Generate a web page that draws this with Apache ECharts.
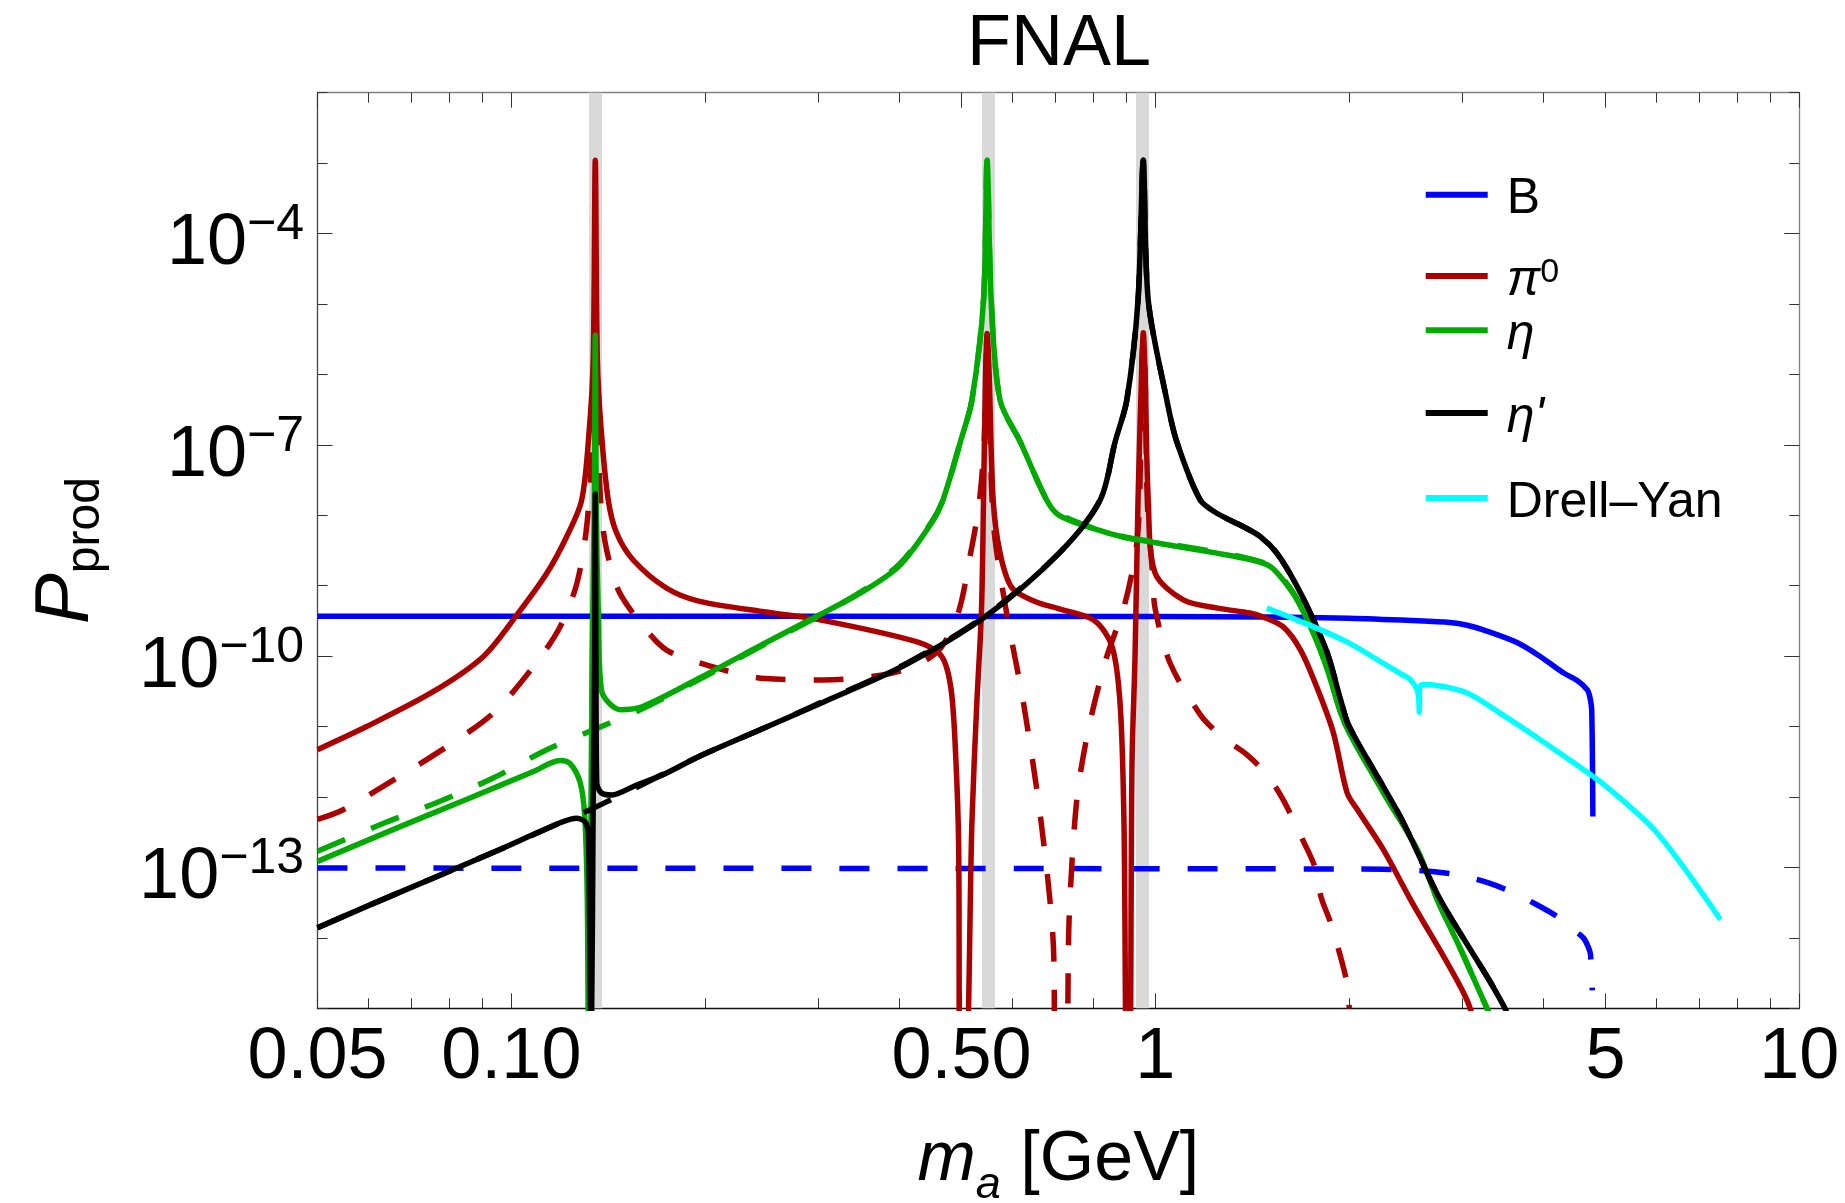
<!DOCTYPE html>
<html lang="en">
<head>
    <meta charset="utf-8">
    <title>FNAL</title>
    <script src="https://cdn.jsdelivr.net/npm/echarts@6/dist/echarts.min.js"></script>
    <style>
        html, body {
            margin: 0;
            padding: 0;
            background: #ffffff;
        }

        #main {
            width: 1845px;
            height: 1203px;
        }
    </style>
</head>
<body>
<div id="main"></div>
<script>
    var FONT = 'Liberation Sans';

    // meson masses [GeV] (grey bands)
    var mesonMasses = [0.135, 0.548, 0.958];

    // axis ticks
    var xMajor = [0.05, 0.1, 0.5, 1, 5, 10];
    var xMajorLabels = ['0.05', '0.10', '0.50', '1', '5', '10'];
    var xMinor = [0.06, 0.07, 0.08, 0.09, 0.2, 0.3, 0.4, 0.6, 0.7, 0.8, 0.9, 2, 3, 4, 6, 7, 8, 9];
    var yMajorExp = [-13, -10, -7, -4];
    var yMinorExp = [-15, -14, -12, -11, -9, -8, -6, -5, -3, -2];

    // curves: [m_a (GeV), P_prod]
    var bSolid = [
        [0.05, 3.7e-10], [1.0, 3.65e-10], [1.5, 3.6e-10], [2.0, 3.45e-10], [2.5, 3.2e-10], [2.87, 3.0e-10],
        [3.05, 2.75e-10], [3.23, 2.36e-10], [3.65, 1.55e-10], [3.96, 9.9e-11], [4.30, 5.8e-11], [4.52, 4.5e-11],
        [4.69, 3.3e-11], [4.73, 2.6e-11], [4.76, 1.73e-11], [4.78, 5.3e-13]
    ];
    var bDashed = [
        [0.05, 9.8e-14], [2.0, 9.5e-14], [2.55, 9.1e-14], [2.94, 7.9e-14], [3.3, 6.0e-14], [3.59, 4.4e-14],
        [3.9, 3.0e-14], [4.21, 2.0e-14], [4.46, 1.31e-14], [4.62, 1.0e-14], [4.70, 7.5e-15], [4.74, 5.8e-15],
        [4.77, 1.8e-15]
    ];
    var pi0Solid = [
        [0.05, 4.7e-12], [0.0596, 1.0e-11], [0.0757, 3.15e-11], [0.0905, 9.9e-11], [0.102, 3.85e-10],
        [0.1135, 1.5e-9], [0.1219, 5.0e-9], [0.1286, 1.65e-8], [0.1321, 1.6e-7], [0.134, 1.6e-6],
        [0.135, 1.1e-3], [0.136, 1.6e-6], [0.1379, 1.6e-7], [0.1414, 1.65e-8], [0.1457, 5.6e-9],
        [0.1547, 2.3e-9], [0.1743, 9.2e-10], [0.196, 6.0e-10], [0.25, 4.2e-10], [0.3055, 3.2e-10],
        [0.428, 1.58e-10], [0.4655, 1.0e-10], [0.4815, 3.5e-11], [0.4895, 4.3e-12], [0.495, 2e-13],
        [0.497, 1e-16], [0.507, 1e-16], [0.519, 4.3e-13], [0.528, 2e-11], [0.537, 4.3e-10], [0.541, 1.65e-8],
        [0.545, 1e-6], [0.548, 3.8e-6], [0.552, 1e-6], [0.560, 1.65e-8], [0.574, 2.9e-9], [0.599, 9.3e-10],
        [0.652, 5.9e-10], [0.709, 4.7e-10], [0.804, 3.2e-10], [0.857, 1.36e-10], [0.882, 2e-11],
        [0.894, 4.3e-13], [0.903, 1e-16], [0.912, 1e-16], [0.92, 3e-12], [0.93, 1e-10], [0.94, 1.65e-8],
        [0.952, 1e-6], [0.958, 3.9e-6], [0.964, 1e-6], [0.975, 1.65e-8], [0.999, 1.52e-9], [1.105, 6.3e-10],
        [1.25, 4.8e-10], [1.403, 4.1e-10], [1.47, 3.6e-10], [1.58, 2.6e-10], [1.68, 1.23e-10], [1.78, 3.7e-11],
        [1.89, 8.2e-12], [1.985, 1.15e-12], [2.06, 6.6e-13], [2.26, 1.79e-13], [2.49, 3.5e-14],
        [3.03, 1.47e-15], [3.2, 3e-16]
    ];
    var pi0Dashed = [
        [0.05, 4.8e-13], [0.0548, 6.6e-13], [0.0664, 1.86e-12], [0.0794, 5.2e-12], [0.0937, 1.55e-11],
        [0.1082, 7.1e-11], [0.119, 2.6e-10], [0.1264, 1.08e-9], [0.1309, 6.9e-9], [0.1335, 1e-7],
        [0.135, 1e-5], [0.1365, 1e-7], [0.138, 1.08e-8], [0.1406, 3.2e-9], [0.147, 8.2e-10], [0.162, 2.36e-10],
        [0.174, 1.23e-10], [0.196, 8e-11], [0.248, 4.8e-11], [0.3055, 4.6e-11], [0.377, 5.4e-11],
        [0.428, 7.6e-11], [0.4655, 1.35e-10], [0.495, 4.3e-10], [0.517, 3e-9], [0.532, 1.35e-8],
        [0.542, 1e-7], [0.548, 3e-6], [0.554, 1e-7], [0.562, 6e-9], [0.587, 4.3e-10], [0.625, 2e-11],
        [0.665, 4.3e-13], [0.694, 9e-15], [0.70, 1e-16], [0.724, 1e-16], [0.735, 2e-14], [0.755, 9e-13],
        [0.787, 9e-12], [0.839, 9.3e-11], [0.894, 5e-10], [0.932, 3e-9], [0.945, 1.5e-8], [0.952, 1e-6],
        [0.958, 3e-6], [0.964, 1e-6], [0.972, 1.5e-8], [0.99, 1.5e-9], [0.999, 4.8e-10], [1.054, 8e-11],
        [1.174, 1.48e-11], [1.268, 7.2e-12], [1.387, 4e-12], [1.49, 2.07e-12], [1.58, 9.1e-13], [1.70, 2.3e-13],
        [1.77, 1e-13], [1.81, 3.7e-14], [1.875, 1.55e-14], [1.985, 2.3e-15], [2.0, 1e-15]
    ];
    var etaSolid = [
        [0.05, 1.22e-13], [0.0672, 3.8e-13], [0.0853, 9.3e-13], [0.1082, 2.3e-12], [0.119, 3.3e-12],
        [0.1233, 3.0e-12], [0.1279, 1.6e-12], [0.130, 5.3e-13], [0.1312, 3.5e-14], [0.1318, 1e-16],
        [0.1335, 1e-10], [0.1345, 1e-8], [0.135, 3.6e-6], [0.1355, 1e-8], [0.1365, 3.65e-10], [0.138, 3.3e-11],
        [0.1475, 1.74e-11], [0.16, 1.93e-11], [0.196, 4.9e-11], [0.25, 1.6e-10], [0.3, 3.8e-10],
        [0.35, 8.1e-10], [0.4, 1.9e-9], [0.45, 8e-9], [0.468, 1.65e-8], [0.498, 1.1e-7], [0.519, 4.3e-7],
        [0.541, 1.13e-5], [0.548, 1.1e-3], [0.556, 1.13e-5], [0.574, 4.3e-7], [0.617, 1.1e-7],
        [0.678, 1.65e-8], [0.709, 1.0e-8], [0.8, 6.5e-9], [0.9, 4.8e-9], [0.981, 4.2e-9], [1.246, 2.9e-9],
        [1.42, 2.3e-9], [1.51, 1.86e-9], [1.58, 1.2e-9], [1.66, 6.3e-10], [1.76, 2.1e-10], [1.85, 6.4e-11],
        [1.94, 1.57e-11], [2.0, 8.2e-12], [2.26, 1.15e-12], [2.55, 1.79e-13], [2.74, 3.5e-14], [3.0, 6e-15],
        [3.42, 4e-16]
    ];
    var etaDashed = [
        [0.05, 1.7e-13], [0.0636, 4.3e-13], [0.0775, 8.7e-13], [0.0937, 1.86e-12], [0.1135, 4.7e-12],
        [0.138, 1.0e-11], [0.16, 1.8e-11], [0.196, 4.7e-11], [0.25, 1.55e-10], [0.3, 3.7e-10], [0.35, 8.3e-10],
        [0.4, 2.0e-9], [0.45, 8.2e-9], [0.468, 1.65e-8], [0.498, 1.1e-7], [0.519, 4.3e-7], [0.541, 1.13e-5],
        [0.548, 1.1e-3], [0.556, 1.13e-5], [0.574, 4.3e-7], [0.617, 1.1e-7], [0.678, 1.65e-8], [0.709, 1.05e-8],
        [0.8, 6.6e-9], [0.9, 4.9e-9], [0.981, 4.3e-9], [1.246, 3.0e-9], [1.42, 2.35e-9], [1.51, 1.9e-9],
        [1.58, 1.25e-9], [1.66, 6.5e-10], [1.76, 2.15e-10], [1.85, 6.5e-11], [1.94, 1.6e-11], [2.0, 8.3e-12],
        [2.26, 1.15e-12], [2.55, 1.8e-13], [2.74, 3.5e-14], [3.0, 6e-15], [3.42, 4e-16]
    ];
    var etapSolid = [
        [0.05, 1.39e-14], [0.0596, 2.8e-14], [0.0757, 7.1e-14], [0.096, 1.8e-13], [0.119, 4.3e-13],
        [0.1264, 5.0e-13], [0.1305, 4.3e-13], [0.1318, 2.5e-13], [0.1330, 1e-16], [0.1340, 1e-12],
        [0.1347, 1e-10], [0.135, 2e-8], [0.1353, 1e-10], [0.1357, 1.6e-12], [0.138, 1.14e-12],
        [0.1432, 1.07e-12], [0.1547, 1.41e-12], [0.1743, 2.2e-12], [0.196, 3.8e-12], [0.25, 1.0e-11],
        [0.3055, 2.24e-11], [0.41, 7.6e-11], [0.548, 3.8e-10], [0.709, 2.9e-9], [0.821, 1.65e-8],
        [0.866, 1.1e-7], [0.903, 4.3e-7], [0.940, 1.13e-5], [0.958, 1.1e-3], [0.975, 1.13e-5], [1.042, 4.3e-7],
        [1.08, 1.1e-7], [1.174, 1.65e-8], [1.246, 1.07e-8], [1.37, 6.9e-9], [1.455, 5.0e-9], [1.544, 2.9e-9],
        [1.64, 1.2e-9], [1.74, 4.1e-10], [1.85, 1.1e-10], [1.94, 2.4e-11], [2.0, 1.0e-11], [2.4, 5.3e-13],
        [2.77, 3.5e-14], [3.49, 1e-15], [3.6, 3e-16]
    ];
    var etapDashed = [
        [0.05, 1.39e-14], [0.0596, 2.8e-14], [0.0757, 7.1e-14], [0.096, 1.8e-13], [0.119, 4.3e-13],
        [0.1325, 6.6e-13], [0.145, 9.8e-13], [0.1547, 1.3e-12], [0.196, 3.8e-12], [0.25, 1.0e-11],
        [0.3055, 2.3e-11], [0.41, 7.8e-11], [0.548, 3.9e-10], [0.709, 2.9e-9], [0.821, 1.65e-8],
        [0.866, 1.1e-7], [0.903, 4.3e-7], [0.940, 1.13e-5], [0.958, 1.1e-3], [0.975, 1.13e-5], [1.042, 4.3e-7],
        [1.08, 1.1e-7], [1.174, 1.65e-8], [1.246, 1.07e-8], [1.37, 6.9e-9], [1.455, 5.0e-9], [1.544, 2.9e-9],
        [1.64, 1.2e-9], [1.74, 4.1e-10], [1.85, 1.1e-10], [1.94, 2.4e-11], [2.0, 1.0e-11], [2.4, 5.3e-13],
        [2.77, 3.5e-14], [3.49, 1e-15], [3.6, 3e-16]
    ];
    var drellYan = [
        [1.49, 4.8e-10], [1.78, 2.5e-10], [2.0, 1.53e-10], [2.26, 7.9e-11], [2.40, 5.7e-11], [2.49, 4.6e-11],
        [2.55, 3.3e-11], [2.565, 2.4e-11], [2.57, 1.6e-11], [2.572, 3.6e-11], [2.6, 3.95e-11], [2.70, 3.9e-11],
        [3.05, 3.0e-11], [3.43, 1.55e-11], [3.96, 6.5e-12], [4.62, 2.45e-12], [5.01, 1.42e-12],
        [6.01, 3.1e-13], [7.54, 1.82e-14]
    ];

    var lg = Math.log10;

    function toLog(pts) {
        return pts.map(function (p) {
            return [lg(p[0]), lg(p[1])];
        });
    }

    function curve(name, pts, color, dashed) {
        return {
            name: name,
            type: 'line',
            data: toLog(pts),
            xAxisIndex: 0,
            yAxisIndex: 0,
            z: 3,
            symbol: 'none',
            showSymbol: false,
            smooth: 0.3,
            clip: true,
            silent: true,
            emphasis: {disabled: true},
            itemStyle: {color: color},
            lineStyle: {color: color, width: 5.5, type: dashed ? [30, 28] : 'solid', cap: 'butt', join: 'round'}
        };
    }

    var xMin = lg(0.05), xMax = lg(10);
    var tickStyle = {color: '#333', width: 1};

    function xAxisDef(pos, values, len, line, labels) {
        return {
            type: 'value', position: pos, min: xMin, max: xMax,
            axisLine: {show: !!line, onZero: false, lineStyle: {color: line || '#000', width: 1.3}},
            axisTick: {show: true, inside: true, length: len, customValues: values.map(lg), lineStyle: tickStyle},
            axisLabel: labels ? {
                show: true, customValues: values.map(lg), margin: 14,
                fontFamily: FONT, fontSize: 72, lineHeight: 72, color: '#000',
                formatter: function (v) {
                    for (var i = 0; i < xMajor.length; i++) {
                        if (Math.abs(lg(xMajor[i]) - v) < 1e-6) return xMajorLabels[i];
                    }
                    return '';
                }
            } : {show: false},
            splitLine: {show: false}
        };
    }

    function yAxisDef(pos, values, len, line, labels) {
        return {
            type: 'value', position: pos, min: -15, max: -2,
            axisLine: {show: !!line, onZero: false, lineStyle: {color: line || '#000', width: 1.3}},
            axisTick: {show: true, inside: true, length: len, customValues: values, lineStyle: tickStyle},
            axisLabel: labels ? {
                show: true, customValues: values, margin: 13.5,
                fontFamily: FONT, color: '#000',
                formatter: function (v) {
                    return '{b|10}{s|\u2212' + Math.round(-v) + '}';
                },
                rich: {
                    b: {fontFamily: FONT, fontSize: 72, lineHeight: 70, padding: [10, 0, 0, 0], verticalAlign: 'top'},
                    s: {fontFamily: FONT, fontSize: 50, lineHeight: 40, padding: [2, 0, 0, 0], verticalAlign: 'top'}
                }
            } : {show: false},
            splitLine: {show: false}
        };
    }

    var xAxes = [
        xAxisDef('bottom', xMinor.concat(xMajor), 10, '#111', false),
        xAxisDef('bottom', xMajor, 15, null, true),
        xAxisDef('top', xMinor.concat(xMajor), 10, '#808080', false),
        xAxisDef('top', xMajor, 15, null, false)
    ];
    xAxes[0].name = '{m|m}{a|a}{g| [GeV]}';
    xAxes[0].nameLocation = 'middle';
    xAxes[0].nameGap = 117.4;
    xAxes[0].nameMoveOverlap = false;
    xAxes[0].nameTextStyle = {
        fontFamily: FONT, fontSize: 70, color: '#000',
        rich: {
            m: {fontFamily: FONT, fontSize: 70, fontStyle: 'italic', lineHeight: 70, verticalAlign: 'top'},
            a: {fontFamily: FONT, fontSize: 45, fontStyle: 'italic', lineHeight: 40, padding: [37.7, 0, 0, 0], verticalAlign: 'top'},
            g: {fontFamily: FONT, fontSize: 70, lineHeight: 70, verticalAlign: 'top'}
        }
    };

    var yAxes = [
        yAxisDef('left', yMinorExp.concat(yMajorExp), 10, '#444', false),
        yAxisDef('left', yMajorExp, 15, null, true),
        yAxisDef('right', yMinorExp.concat(yMajorExp), 10, '#808080', false),
        yAxisDef('right', yMajorExp, 15, null, false)
    ];
    yAxes[0].name = '{p|P}{s|prod}';
    yAxes[0].nameLocation = 'middle';
    yAxes[0].nameRotate = 90;
    yAxes[0].nameGap = 213.1;
    yAxes[0].nameMoveOverlap = false;
    yAxes[0].nameTextStyle = {
        fontFamily: FONT, fontSize: 76, color: '#000',
        rich: {
            p: {fontFamily: FONT, fontSize: 76, fontStyle: 'italic', lineHeight: 76, verticalAlign: 'top'},
            s: {fontFamily: FONT, fontSize: 48, lineHeight: 48, padding: [33.3, 0, 0, 0], verticalAlign: 'top'}
        }
    };

    // legend: one component per entry so each row sits where the original puts it
    var legendRows = [
        {name: 'B', y: 200, q: 10.6, text: '{t|B}'},
        {name: 'pi0', y: 281, q: 10, text: '{i|\u03c0}{s|0}'},
        {name: 'eta', y: 343.3, q: 26, text: '{i|\u03b7}'},
        {name: 'etap', y: 425, q: 24, text: "{i|\u03b7'}"},
        {name: 'DY', y: 502.7, q: 9.4, text: '{t|Drell\u2013Yan}'}
    ];
    var legends = legendRows.map(function (row) {
        return {
            data: [row.name],
            left: 1425.7,
            top: row.y - (40 + row.q) / 2,
            padding: 0,
            icon: 'rect',
            itemWidth: 62,
            itemHeight: 6,
            selectedMode: false,
            formatter: function () {
                return row.text;
            },
            textStyle: {
                fontFamily: FONT, fontSize: 50, color: '#000',
                rich: {
                    t: {fontFamily: FONT, fontSize: 50, lineHeight: 40, verticalAlign: 'top', padding: [0, 0, row.q, 14]},
                    i: {fontFamily: FONT, fontSize: 50, fontStyle: 'italic', lineHeight: 40, verticalAlign: 'top', padding: [0, 0, row.q, 14]},
                    s: {fontFamily: FONT, fontSize: 34, lineHeight: 9.2, verticalAlign: 'top'}
                }
            }
        };
    });

    var bands = {
        name: 'bands',
        type: 'line',
        data: [],
        xAxisIndex: 0,
        yAxisIndex: 0,
        z: 1,
        silent: true,
        markLine: {
            z: 1,
            silent: true,
            symbol: ['none', 'none'],
            label: {show: false},
            emphasis: {disabled: true},
            lineStyle: {color: '#d9d9d9', width: 13, type: 'solid'},
            data: mesonMasses.map(function (m) {
                return {xAxis: lg(m)};
            })
        }
    };

    var myChart = echarts.init(document.getElementById('main'), null, {renderer: 'canvas'});
    myChart.setOption({
        animation: false,
        backgroundColor: '#ffffff',
        textStyle: {fontFamily: FONT},
        title: {
            text: 'FNAL', left: 967, top: 9.1, padding: 0,
            textStyle: {fontFamily: FONT, fontSize: 72, lineHeight: 72, fontWeight: 'normal', color: '#000'}
        },
        grid: {left: 317.5, right: 45.7, top: 92.7, bottom: 194.7, containLabel: false, outerBoundsMode: 'none'},
        legend: legends,
        xAxis: xAxes,
        yAxis: yAxes,
        series: [
            bands,
            curve('B', bSolid, '#0000ff', false),
            curve('B dashed', bDashed, '#0000ff', true),
            curve('pi0', pi0Solid, '#aa0000', false),
            curve('pi0 dashed', pi0Dashed, '#aa0000', true),
            curve('eta', etaSolid, '#00aa00', false),
            curve('eta dashed', etaDashed, '#00aa00', true),
            curve('etap dashed', etapDashed, '#000000', true),
            curve('etap', etapSolid, '#000000', false),
            curve('DY', drellYan, '#00ffff', false)
        ]
    });
</script>
</body>
</html>
